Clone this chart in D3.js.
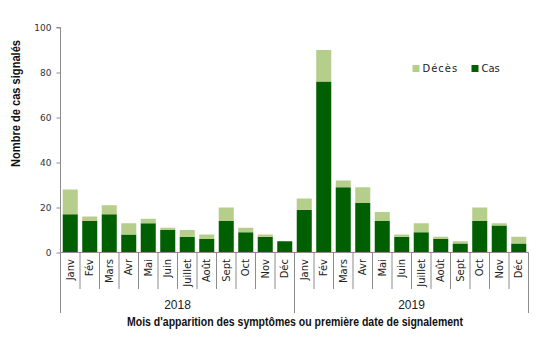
<!DOCTYPE html>
<html>
<head>
<meta charset="utf-8">
<script src="https://cdn.jsdelivr.net/npm/d3@7"></script>
<style>
  html, body { margin: 0; padding: 0; background: #fff; }
  svg { display: block; }
</style>
</head>
<body>
<svg id="chart" width="546" height="350"></svg>
<script>
const months = ["Janv","Fév","Mars","Avr","Mai","Juin","Juillet","Août","Sept","Oct","Nov","Déc"];
const years = ["2018","2019"];
const cas = [17,14,17,8,13,10,7,6,14,9,7,5, 19,76,29,22,14,7,9,6,4,14,12,4];
const deces = [11,2,4,5,2,1,3,2,6,2,1,0, 5,14,3,7,4,1,4,1,1,6,1,3];
const yTicks = [0,20,40,60,80,100];
const seriesNames = ["Décès","Cas"];

const colCas = "#005f00";
const colDeces = "#b5ce8c";
const axisCol = "#8c8c8c";

const svg = d3.select("#chart");
const mLeft = 60.5, mRight = 528.5, mTop = 27.5, mBottom = 252.5;

const cats = [];
years.forEach(yr => months.forEach(m => cats.push(yr + "-" + m)));
const rows = cats.map((c, i) => ({key: c, month: months[i % 12], year: years[Math.floor(i / 12)], cas: cas[i], deces: deces[i]}));

const x = d3.scaleBand().domain(cats).range([mLeft, mRight]).paddingInner(0.23).paddingOuter(0.115);
const y = d3.scaleLinear().domain([0, 100]).range([mBottom, mTop]);

const stacked = d3.stack().keys(["cas","deces"])(rows);
const colors = {cas: colCas, deces: colDeces};

svg.append("g").selectAll("g").data(stacked).join("g")
  .attr("fill", d => colors[d.key])
  .selectAll("rect").data(d => d).join("rect")
  .attr("x", d => x(d.data.key))
  .attr("width", x.bandwidth())
  .attr("y", d => y(d[1]))
  .attr("height", d => y(d[0]) - y(d[1]));

// Y axis
const yAxis = svg.append("g").attr("transform", `translate(${mLeft},0)`)
  .call(d3.axisLeft(y).tickValues(yTicks).tickSize(4).tickPadding(5));
yAxis.select(".domain").attr("stroke", axisCol).attr("d", `M-4,${mTop}H0V${mBottom}`);
yAxis.selectAll(".tick line").attr("stroke", axisCol);
yAxis.selectAll("text").attr("font-family", "DejaVu Sans, Verdana, sans-serif").attr("font-size", 9).attr("fill", "#333");

// X axis
const xg = svg.append("g");
xg.append("line").attr("x1", mLeft).attr("x2", mRight).attr("y1", mBottom).attr("y2", mBottom).attr("stroke", axisCol);
const step = x.step();
cats.forEach((c, i) => {
  if (i % 12 === 0) return;
  const xx = x(c) - step * x.paddingInner() / 2;
  xg.append("line").attr("x1", xx).attr("x2", xx).attr("y1", mBottom).attr("y2", 289).attr("stroke", axisCol);
});
const yearEdges = [mLeft, (x(cats[12]) - step * x.paddingInner() / 2), mRight];
yearEdges.forEach(xx => {
  xg.append("line").attr("x1", xx).attr("x2", xx).attr("y1", mBottom).attr("y2", 313).attr("stroke", axisCol);
});
xg.selectAll("text.m").data(rows).join("text")
  .attr("class", "m")
  .attr("transform", d => `translate(${x(d.key) + x.bandwidth() / 2},259) rotate(-90)`)
  .attr("text-anchor", "end")
  .attr("dy", "0.35em")
  .attr("font-family", "DejaVu Sans, Verdana, sans-serif")
  .attr("font-size", 10)
  .attr("fill", "#222")
  .text(d => d.month);
years.forEach((yr, i) => {
  xg.append("text")
    .attr("x", (yearEdges[i] + yearEdges[i + 1]) / 2)
    .attr("y", 309)
    .attr("text-anchor", "middle")
    .attr("font-family", "Liberation Sans Narrow, Liberation Sans, sans-serif")
    .attr("font-size", 12)
    .attr("fill", "#222")
    .text(yr);
});

svg.append("text")
  .attr("x", 295).attr("y", 326)
  .attr("text-anchor", "middle")
  .attr("font-family", "Liberation Sans Narrow, Liberation Sans, sans-serif")
  .attr("font-weight", "bold")
  .attr("font-size", 12)
  .attr("textLength", 336).attr("lengthAdjust", "spacingAndGlyphs")
  .attr("fill", "#111")
  .text("Mois d'apparition  des symptômes ou première date de signalement");

svg.append("text")
  .attr("transform", "translate(19.5,103.5) rotate(-90)")
  .attr("text-anchor", "middle")
  .attr("font-family", "Liberation Sans Narrow, Liberation Sans, sans-serif")
  .attr("font-weight", "bold")
  .attr("font-size", 12)
  .attr("textLength", 127).attr("lengthAdjust", "spacingAndGlyphs")
  .attr("fill", "#111")
  .text("Nombre de cas signalés");

const legend = svg.append("g");
const legendPos = [{x: 412.5, name: seriesNames[0], color: colDeces}, {x: 471.5, name: seriesNames[1], color: colCas}];
legendPos.forEach(l => {
  legend.append("rect").attr("x", l.x).attr("y", 65).attr("width", 7).attr("height", 7).attr("fill", l.color);
  legend.append("text").attr("x", l.x + 10).attr("y", 72)
    .attr("font-family", "DejaVu Sans, Verdana, sans-serif")
    .attr("font-size", 10)
    .attr("letter-spacing", l.name === "Décès" ? 1 : 0)
    .attr("fill", "#222")
    .text(l.name);
});
</script>
</body>
</html>
